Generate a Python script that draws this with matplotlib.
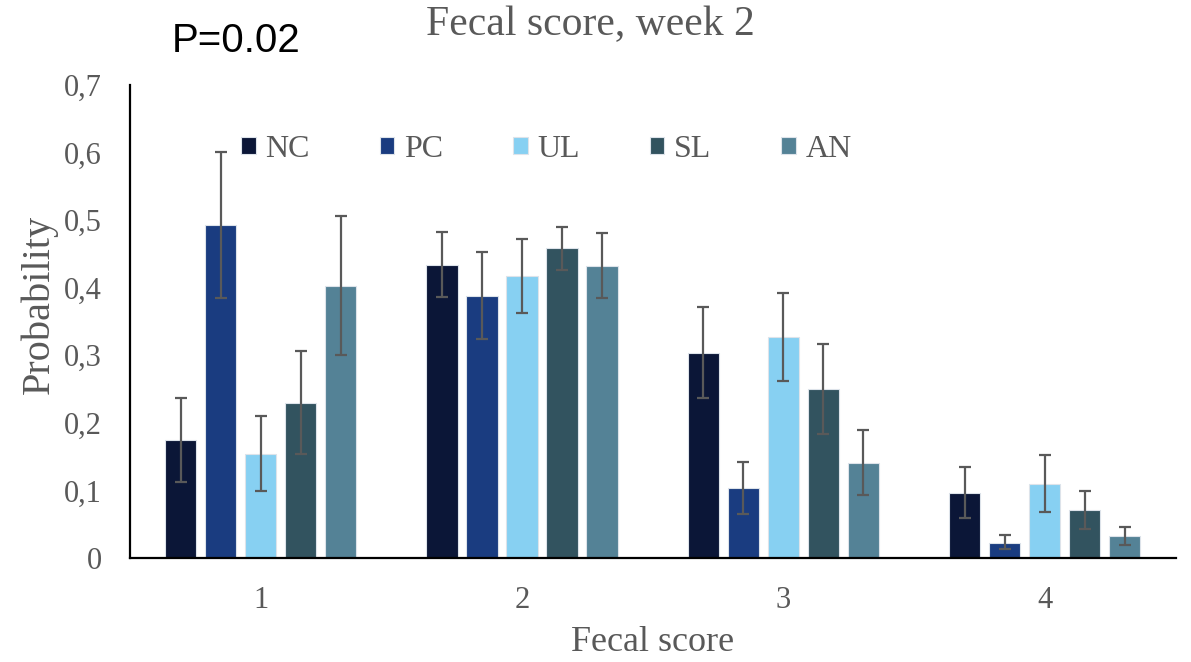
import numpy as np
import matplotlib
matplotlib.use("Agg")
import matplotlib.pyplot as plt
from matplotlib.ticker import FuncFormatter

scores = ["1", "2", "3", "4"]
groups = ["NC", "PC", "UL", "SL", "AN"]
colors = ["#0b1637", "#1a3c80", "#87d0f2", "#32535f", "#548296"]

# probability of each fecal score per treatment
nc = [0.175, 0.433, 0.303, 0.096]
pc = [0.492, 0.387, 0.104, 0.022]
ul = [0.154, 0.417, 0.327, 0.109]
sl = [0.229, 0.458, 0.250, 0.071]
an = [0.402, 0.432, 0.141, 0.033]

# lower / upper error bar limits
nc_lo = [0.112, 0.386, 0.237, 0.059]
nc_hi = [0.237, 0.482, 0.371, 0.135]
pc_lo = [0.385, 0.324, 0.065, 0.013]
pc_hi = [0.600, 0.453, 0.142, 0.034]
ul_lo = [0.099, 0.362, 0.262, 0.068]
ul_hi = [0.210, 0.472, 0.392, 0.152]
sl_lo = [0.154, 0.426, 0.183, 0.043]
sl_hi = [0.306, 0.490, 0.317, 0.099]
an_lo = [0.300, 0.385, 0.093, 0.019]
an_hi = [0.506, 0.481, 0.189, 0.046]

values = [nc, pc, ul, sl, an]
lows = [nc_lo, pc_lo, ul_lo, sl_lo, an_lo]
highs = [nc_hi, pc_hi, ul_hi, sl_hi, an_hi]

grey = "#595959"
serif = ["Liberation Serif", "DejaVu Serif"]

fig = plt.figure(figsize=(11.91, 6.62), dpi=100)
ax = fig.add_axes([0.109, 0.157, 0.878, 0.715])

x = np.arange(1, len(scores) + 1)
step = 0.153
width = 0.119
for i, (name, vals, lo, hi, c) in enumerate(zip(groups, values, lows, highs, colors)):
    vals = np.array(vals)
    err = [vals - np.array(lo), np.array(hi) - vals]
    ax.bar(x + (i - 2) * step, vals, width, color=c, label=name,
           edgecolor="#dde3ea", linewidth=0.8,
           yerr=err, ecolor=grey, capsize=4.5,
           error_kw=dict(elinewidth=1.6, capthick=1.6))

ax.set_xlim(0.5, 4.5)
ax.set_ylim(0, 0.7)
ax.set_xticks(x)
ax.set_xticklabels(scores)
ax.set_yticks(np.arange(0, 0.71, 0.1))
ax.yaxis.set_major_formatter(FuncFormatter(
    lambda v, p: "0" if abs(v) < 1e-9 else f"{v:.1f}".replace(".", ",")))
for lab in ax.get_xticklabels() + ax.get_yticklabels():
    lab.set_family(serif)
    lab.set_fontsize(22)
    lab.set_color(grey)
ax.tick_params(axis="y", length=0, pad=20)
ax.tick_params(axis="x", length=0, pad=20)

for s in ["top", "right"]:
    ax.spines[s].set_visible(False)
ax.spines["left"].set_linewidth(1.6)
ax.spines["bottom"].set_linewidth(1.6)
ax.spines["left"].set_color("black")
ax.spines["bottom"].set_color("black")

ax.set_xlabel("Fecal score", family=serif, fontsize=26, color=grey, labelpad=8)
ax.set_ylabel("Probability", family=serif, fontsize=29, color=grey)
ax.yaxis.set_label_coords(-0.069, 0.535)
fig.text(0.496, 0.962, "Fecal score, week 2", family=serif, fontsize=30,
         color=grey, ha="center", va="center")
fig.text(0.144, 0.938, "P=0.02", family=["Liberation Sans", "DejaVu Sans"],
         fontsize=29, color="black", ha="left", va="center")

leg = ax.legend(loc="upper left", bbox_to_anchor=(0.079, 0.955), ncol=5,
                frameon=False, handlelength=0.45, handleheight=0.45,
                handletextpad=0.3, columnspacing=2.2,
                prop=dict(family=serif, size=23))
for t in leg.get_texts():
    t.set_color(grey)

fig.savefig("out.png", dpi=100)
